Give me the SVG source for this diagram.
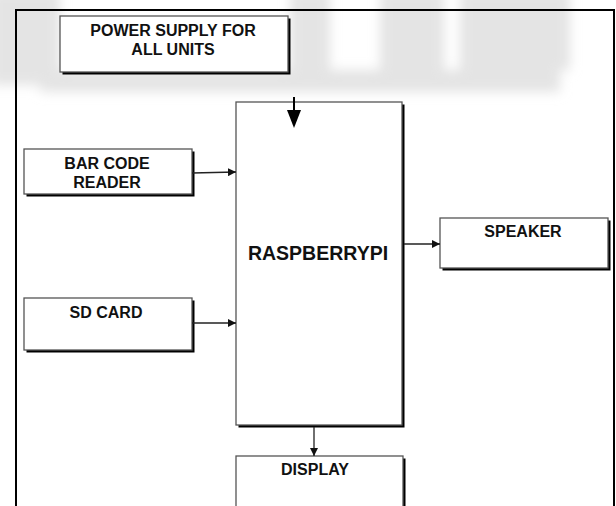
<svg xmlns="http://www.w3.org/2000/svg" width="616" height="506" viewBox="0 0 616 506">
<defs>
<style>
.box{fill:#fff;stroke:#555;stroke-width:1.3}
.sh{fill:#000}
.t{font-family:"Liberation Sans",Arial,sans-serif;font-weight:bold;fill:#111;text-anchor:middle}
.c{stroke:#222;stroke-width:1.3;fill:none}
</style>
<marker id="ah" viewBox="0 0 10 10" refX="10" refY="5" markerWidth="8" markerHeight="8" markerUnits="userSpaceOnUse" orient="auto">
<path d="M0,0 L10,5 L0,10 z" fill="#111"/>
</marker>
<filter id="blur" x="-20%" y="-20%" width="140%" height="140%"><feGaussianBlur stdDeviation="6"/></filter>
</defs>
<rect width="616" height="506" fill="#fff"/>
<g id="watermark" fill="#e4e4e4" filter="url(#blur)">
<rect x="-10" y="-10" width="70" height="95"/>
<rect x="40" y="70" width="520" height="22"/>
<rect x="290" y="-10" width="40" height="80"/>
<rect x="380" y="-10" width="64" height="80"/>
<rect x="460" y="-10" width="110" height="80"/>
</g>
<rect id="frame" x="16" y="10" width="598" height="510" fill="none" stroke="#000" stroke-width="2"/>
<g id="power">
<rect class="sh" x="62.5" y="18.5" width="228" height="56"/>
<rect class="box" x="60" y="16" width="228" height="56"/>
<text class="t" x="173" y="35.5" font-size="16">POWER SUPPLY FOR</text>
<text class="t" x="173" y="54.5" font-size="16">ALL UNITS</text>
</g>
<g id="rpi">
<rect class="sh" x="238.5" y="104.5" width="166" height="323"/>
<rect class="box" x="236" y="102" width="166" height="323"/>
<text class="t" x="318" y="260" font-size="19.5">RASPBERRYPI</text>
</g>
<g id="barcode">
<rect class="sh" x="26.5" y="151.5" width="168" height="45"/>
<rect class="box" x="24" y="149" width="168" height="45"/>
<text class="t" x="107" y="168.5" font-size="16">BAR CODE</text>
<text class="t" x="107" y="187.5" font-size="16">READER</text>
</g>
<g id="sdcard">
<rect class="sh" x="26.5" y="300.5" width="168" height="52"/>
<rect class="box" x="24" y="298" width="168" height="52"/>
<text class="t" x="106" y="318" font-size="16">SD CARD</text>
</g>
<g id="speaker">
<rect class="sh" x="442.5" y="220.5" width="168" height="50"/>
<rect class="box" x="440" y="218" width="168" height="50"/>
<text class="t" x="523" y="237" font-size="16">SPEAKER</text>
</g>
<g id="display">
<rect class="sh" x="238.5" y="458.5" width="167" height="60"/>
<rect class="box" x="236" y="456" width="167" height="60"/>
<text class="t" x="315" y="475" font-size="16">DISPLAY</text>
</g>
<g id="connectors">
<line x1="294" y1="97" x2="294" y2="112" stroke="#000" stroke-width="2"/>
<path d="M287,110 L301,110 L294,128 z" fill="#000"/>
<line class="c" x1="192" y1="173" x2="236" y2="172" marker-end="url(#ah)"/>
<line class="c" x1="192" y1="323" x2="236" y2="323" marker-end="url(#ah)"/>
<line class="c" x1="404" y1="244" x2="440" y2="244" marker-end="url(#ah)"/>
<line class="c" x1="314" y1="427" x2="314" y2="456" marker-end="url(#ah)"/>
</g>
</svg>
